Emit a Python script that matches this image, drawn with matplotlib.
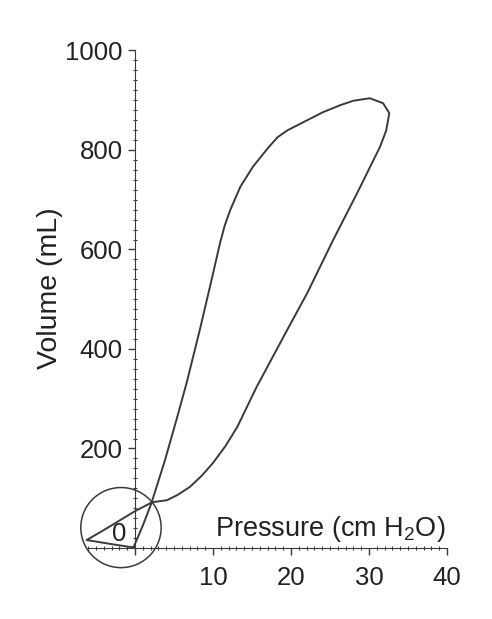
import matplotlib
matplotlib.use('Agg')
import matplotlib.pyplot as plt
from matplotlib.patches import Ellipse
from matplotlib.ticker import FixedLocator

# Datos (presion en cm H2O, volumen en mL)
presion = [-0.2, -3.1, -6.2, -4.0, -1.9, 0.0, 2.2, 4.1, 5.5, 7.05, 8.6, 10.0,
           11.6, 13.1, 15.6, 19.5, 22.1, 25.4, 28.5, 31.4, 32.2, 32.6, 31.8,
           30.1, 28.0, 26.3, 24.1, 22.1, 19.6, 18.3, 17.1, 15.1, 13.5, 12.2,
           11.5, 10.9, 9.8, 8.3, 6.6, 5.3, 3.85, 2.1, 1.0, -0.2]
volumen = [1, 8, 16, 36, 56, 74, 92, 96, 107, 123, 146, 171,
           205, 243, 324, 438, 513, 619, 714, 806, 839, 874, 894,
           904, 899, 890, 876, 860, 840, 826, 805, 766, 726, 679,
           648, 613, 538, 438, 331, 257, 177, 90, 45, 1]

xticks = [0, 10, 20, 30, 40]
xtick_labels = ['', '10', '20', '30', '40']
yticks = [200, 400, 600, 800, 1000]
ytick_labels = ['200', '400', '600', '800', '1000']

plt.rcParams['font.family'] = ['Liberation Sans', 'DejaVu Sans']
plt.rcParams['mathtext.fontset'] = 'custom'
plt.rcParams['mathtext.rm'] = 'Liberation Sans'

gris = '#3a3a3a'

fig = plt.figure(figsize=(4.92, 6.19), dpi=100)
ax = fig.add_axes([0.1476, 0.0665, 0.7927, 0.8600])
ax.set_xlim(-8, 42)
ax.set_ylim(-60, 1010)

# Curva presion-volumen
ax.plot(presion, volumen, color=gris, linewidth=1.4, solid_joinstyle='round')

# Circulo alrededor del bucle de disparo
circulo = Ellipse((-1.8, 41), width=10.3, height=161, fill=False,
                  edgecolor=gris, linewidth=1.1)
ax.add_patch(circulo)

# Ejes cruzando en el origen
for lado in ['top', 'right']:
    ax.spines[lado].set_visible(False)
ax.spines['left'].set_position(('data', 0))
ax.spines['bottom'].set_position(('data', 0))
ax.spines['left'].set_bounds(0, 1000)
ax.spines['bottom'].set_bounds(-6, 40)
ax.spines['left'].set_color(gris)
ax.spines['bottom'].set_color(gris)

ax.set_xticks(xticks)
ax.set_xticklabels(xtick_labels)
ax.set_yticks(yticks)
ax.set_yticklabels(ytick_labels)
ax.xaxis.set_minor_locator(FixedLocator(range(-6, 41)))
ax.yaxis.set_minor_locator(FixedLocator(range(20, 1000, 20)))
ax.tick_params(which='major', direction='out', length=5, width=1,
               color=gris, labelcolor='#222222', labelsize=18.5)
ax.tick_params(axis='x', which='major', pad=8)
ax.tick_params(axis='y', which='major', pad=4)
ax.tick_params(which='minor', direction='inout', length=3, width=0.8,
               color=gris)

# Etiquetas
ax.text(-2.05, 29, '0', ha='center', va='center', fontsize=18.5,
        color='#222222')
ax.text(39.8, 24, r'Pressure (cm H$_\mathrm{2}$O)', ha='right',
        va='baseline', fontsize=19.5, color='#222222')
fig.text(50 / 492, 1 - 288 / 619, 'Volume (mL)', rotation=90, ha='center',
         va='center', fontsize=20.5, color='#222222')

fig.savefig('out.png', dpi=100)
